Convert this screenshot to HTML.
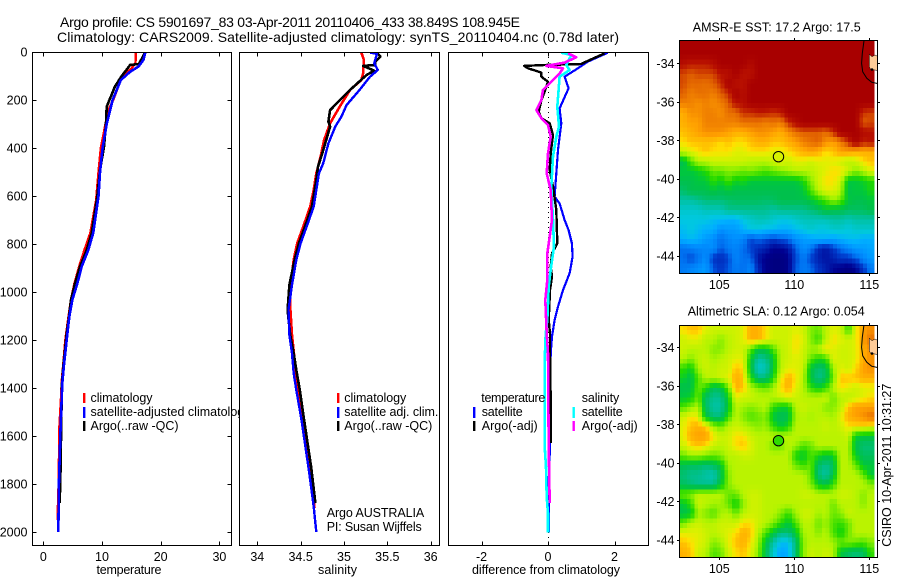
<!DOCTYPE html>
<html lang="en">
<head>
<meta charset="utf-8">
<title>Argo profile CS 5901697_83</title>
<style>
html,body{margin:0;padding:0;background:#fff;width:900px;height:580px;overflow:hidden}
svg{display:block;font-family:"Liberation Sans",Arial,sans-serif;font-size:12.5px;fill:#000}
</style>
</head>
<body>
<svg id="chart" width="900" height="580" viewBox="0 0 900 580" xmlns="http://www.w3.org/2000/svg">
<defs>
<clipPath id="clip-p1"><rect x="32" y="52" width="200" height="493"/></clipPath>
<clipPath id="clip-p2"><rect x="239" y="52" width="200" height="493"/></clipPath>
<clipPath id="clip-p3"><rect x="448" y="52" width="200" height="493"/></clipPath>
<clipPath id="clip-m1"><rect x="679.5" y="40.5" width="198" height="233"/></clipPath>
<clipPath id="clip-m2"><rect x="679.5" y="325.5" width="198" height="232"/></clipPath>
</defs>
<text x="60" y="27" font-size="14" textLength="460">Argo profile: CS 5901697_83 03-Apr-2011 20110406_433 38.849S 108.945E</text>
<text x="57" y="42" font-size="14" textLength="562">Climatology: CARS2009. Satellite-adjusted climatology: synTS_20110404.nc (0.78d later)</text>

<g id="panel1">
<rect x="32" y="52" width="200" height="493" fill="#fff"/>
<g id="panel1-marks" clip-path="url(#clip-p1)"></g>
<g id="panel1-axes"></g>
<text x="129" y="574" text-anchor="middle" textLength="65">temperature</text>
<g>
<rect x="83" y="393" width="2.4" height="10" fill="#f00"/>
<rect x="83" y="407" width="2.4" height="11" fill="#00f"/>
<rect x="83" y="421" width="2.4" height="10" fill="#000"/>
<text x="90.5" y="402" textLength="62">climatology</text>
<text x="90.5" y="416" textLength="160">satellite-adjusted climatology</text>
<text x="90.5" y="430" textLength="88">Argo(..raw -QC)</text>
</g>
</g>

<g id="panel2">
<rect x="239" y="52" width="200" height="493" fill="#fff"/>
<g id="panel2-marks" clip-path="url(#clip-p2)"></g>
<g id="panel2-axes"></g>
<text x="337.5" y="574" text-anchor="middle" textLength="39">salinity</text>
<g>
<rect x="337" y="393" width="2.4" height="10" fill="#f00"/>
<rect x="337" y="407" width="2.4" height="11" fill="#00f"/>
<rect x="337" y="421" width="2.4" height="10" fill="#000"/>
<text x="344.3" y="402" textLength="62">climatology</text>
<text x="344.3" y="416" textLength="94">satellite adj. clim.</text>
<text x="344.3" y="430" textLength="88">Argo(..raw -QC)</text>
<text x="326.7" y="517" textLength="97.5">Argo AUSTRALIA</text>
<text x="326.7" y="531" textLength="95">PI: Susan Wijffels</text>
</g>
</g>

<g id="panel3">
<rect x="448" y="52" width="200" height="493" fill="#fff"/>
<g id="panel3-marks" clip-path="url(#clip-p3)"></g>
<g id="panel3-axes"></g>
<text x="546" y="574" text-anchor="middle" textLength="148">difference from climatology</text>
<g>
<rect x="473" y="407" width="2.4" height="11" fill="#00f"/>
<rect x="473" y="421" width="2.4" height="10" fill="#000"/>
<rect x="572.5" y="407" width="2.4" height="11" fill="#0ff"/>
<rect x="572.5" y="421" width="2.4" height="10" fill="#f0f"/>
<text x="481.3" y="402" textLength="64">temperature</text>
<text x="481.7" y="416" textLength="41">satellite</text>
<text x="481.7" y="430" textLength="56">Argo(-adj)</text>
<text x="581.7" y="402" textLength="37.5">salinity</text>
<text x="581.7" y="416" textLength="41">satellite</text>
<text x="581.7" y="430" textLength="56">Argo(-adj)</text>
</g>
</g>

<g id="map1">
<text x="692.7" y="31.7" textLength="168">AMSR-E SST: 17.2 Argo: 17.5</text>
<g id="map1-cells" clip-path="url(#clip-m1)"></g>
<g id="map1-axes"></g>
</g>

<g id="map2">
<text x="687.7" y="315.7" textLength="177">Altimetric SLA: 0.12 Argo: 0.054</text>
<g id="map2-cells" clip-path="url(#clip-m2)"></g>
<g id="map2-axes"></g>
</g>

<text transform="translate(891,546.7) rotate(-90)" textLength="163">CSIRO 10-Apr-2011 10:31:27</text>

<script>
// ---- Profile data (depth in metres) ----
const depthTicks = [0,200,400,600,800,1000,1200,1400,1600,1800,2000];
const tempTicks = [0,10,20,30];
const salTicks = [34,34.5,35,35.5,36];
const salTickLabels = ['34','34.5','35','35.5','36'];
const diffTicks = [-2,0,2];

const tempClimDepth = [0,45,68,106,200,240,300,400,500,617,686,754,825,894,965,1033,1103,1200,1300,1367,1450,1561,1800,1950];
const tempClimValue = [15.75,15.7,15.05,13.35,11.9,11.1,10.6,9.8,9.4,9.0,8.5,8.0,7.0,6.1,5.3,4.7,4.3,3.75,3.4,3.15,3.0,2.75,2.6,2.42];
const tempSatDepth = [0,33,61,82,117,200,300,400,500,600,754,825,894,965,1033,1103,1172,1242,1311,1381,1548,1645,1784,2000];
const tempSatValue = [17.4,17.05,16.2,14.8,13.2,11.8,10.8,10.1,9.66,9.4,8.5,7.67,6.54,5.8,4.94,4.43,4.1,3.8,3.5,3.24,2.96,2.85,2.67,2.56];
const tempArgoDepth = [3,50,54,61,100,144,228,297,394,492,603,754,825,894,965,1033,1103,1172,1242,1311,1381,1548,1728,1880];
const tempArgoValue = [17.3,16.3,14.77,14.6,13.35,12.2,10.8,10.68,10.34,9.66,9.2,8.24,7.39,6.25,5.4,4.72,4.38,3.98,3.7,3.41,3.19,3.05,2.95,2.8];

const salClimDepth = [2,33,89,117,158,228,297,367,436,506,575,644,727,797,866,970,1061,1179,1283,1394,1533,1728,1900];
const salClimValue = [35.2,35.23,35.22,35.2,35.07,34.95,34.84,34.77,34.73,34.68,34.65,34.61,34.53,34.46,34.42,34.385,34.38,34.4,34.43,34.47,34.53,34.61,34.66];
const salSatDepth = [2,8,47,75,103,158,221,269,311,381,464,506,575,644,727,797,866,970,1075,1179,1255,1339,1408,1533,1755,1894,2000];
const salSatValue = [35.3,35.38,35.35,35.39,35.3,35.18,35.03,34.97,34.9,34.82,34.76,34.71,34.68,34.65,34.57,34.5,34.45,34.4,34.36,34.37,34.4,34.42,34.45,34.51,34.6,34.65,34.68];
const salArgoDepth = [3,19,40,54,58,78,96,158,242,290,311,422,478,533,644,727,797,866,970,1075,1179,1255,1325,1408,1533,1728,1880];
const salArgoValue = [35.38,35.42,35.36,35.36,35.22,35.35,35.26,35.07,34.84,34.82,34.84,34.75,34.7,34.68,34.63,34.55,34.48,34.43,34.37,34.35,34.38,34.42,34.45,34.49,34.54,34.62,34.67];

const diffTempSatDepth = [3,40,68,103,151,235,297,408,506,603,631,700,742,797,853,922,992,1061,1117,1186,1256,1450,1645,1784,2003];
const diffTempSatValue = [1.8,1.2,0.9,0.5,0.62,0.35,0.4,0.3,0.25,0.2,0.35,0.5,0.62,0.72,0.74,0.65,0.45,0.3,0.2,0.12,0.08,0.06,0.06,0.02,0.02];
const diffTempArgoDepth = [6,40,50,54,58,68,86,103,124,165,200,249,276,297,346,422,492,561,658,797,839,894,936,992,1117,1172,1256,1450,1630];
const diffTempArgoValue = [1.7,1.15,1.0,-0.1,-0.72,-0.6,-0.2,-0.2,0,-0.1,-0.2,-0.28,-0.2,0.05,0.15,0.08,0.05,0.15,0.25,0.28,0.12,0.08,0.12,0.06,0.02,0.06,0.06,0.08,0.08];
const diffSalSatDepth = [3,13,54,75,103,158,228,311,353,436,561,700,811,908,978,1117,1172,1283,1367,1645,1728,1853,1922,2003];
const diffSalSatValue = [0.4,0.7,0.55,0.65,0.35,0.32,0.28,0.33,0.25,0.15,0.1,0.15,0.18,0.08,0.02,-0.02,-0.07,-0.1,-0.1,-0.1,-0.06,-0.04,0,0];
const diffSalArgoDepth = [6,22,44,58,68,89,124,158,200,242,276,304,353,422,506,575,700,769,839,950,1033,1172,1256,1645,1880];
const diffSalArgoValue = [0.6,0.85,0.5,-0.05,0.45,0.35,0.1,-0.15,-0.2,-0.35,-0.2,0,0.08,0,-0.04,0.08,0.12,0.05,-0.02,-0.02,-0.08,-0.04,0,0.02,0.05];

// ---- Map data: colour index 0 (deep blue) .. 100 (dark red), sampled every 0.5 degree ----
const lonTicks = [105,110,115];
const latTicks = [-34,-36,-38,-40,-42,-44];
const sstValues = [
[100,100,100,100,100,100,100,100,100,100,100,100,100,100,100,100,100,100,100,100,100,100,100,100,100,100],
[100,100,100,100,100,100,100,100,100,100,100,100,100,100,100,100,100,100,100,100,100,100,100,100,100,100],
[95,92,92,92,95,100,100,100,100,96,100,100,100,100,100,100,100,100,100,100,100,100,100,100,100,100],
[88,86,88,88,88,94,94,100,94,94,100,100,100,100,100,100,100,100,100,100,100,100,100,100,100,100],
[88,85,85,84,86,90,100,94,94,100,100,100,100,100,100,100,100,100,100,100,100,100,100,100,100,100],
[86,82,84,84,82,86,90,100,95,100,100,100,100,100,100,100,100,100,100,100,100,100,100,100,100,100],
[82,82,80,82,80,82,86,94,95,100,100,100,100,100,100,100,100,100,100,100,100,100,100,100,100,100],
[76,80,80,82,82,80,84,84,90,90,92,92,90,92,100,100,100,100,100,100,100,100,100,100,90,88],
[76,78,78,82,82,82,82,82,84,84,84,82,84,82,90,96,100,100,100,100,100,100,100,100,86,88],
[74,76,78,80,80,80,78,76,76,78,80,80,78,76,80,84,86,86,86,84,90,100,100,100,96,94],
[72,74,74,74,74,72,74,72,72,74,76,76,74,74,76,78,82,84,86,80,78,82,90,100,92,94],
[68,70,72,74,72,72,72,70,70,72,72,72,70,70,72,74,76,78,76,72,74,78,78,76,76,76],
[47,58,66,66,68,68,68,68,68,66,66,66,68,70,68,70,70,68,70,70,70,68,66,68,72,74],
[50,50,52,55,60,60,62,62,60,62,60,58,60,62,64,66,66,66,68,70,72,72,68,62,66,70],
[48,48,50,50,56,52,58,52,54,50,50,50,50,50,50,50,54,62,68,72,72,68,50,50,52,55],
[45,48,48,48,50,48,50,48,48,48,48,48,48,48,48,48,50,58,66,70,70,66,48,50,50,54],
[40,40,42,44,44,44,45,46,46,46,46,45,46,48,48,48,48,50,54,58,64,60,50,48,48,50],
[36,36,36,38,38,38,42,42,42,42,42,42,40,42,42,42,42,44,46,50,48,48,46,46,46,48],
[34,34,34,34,32,32,30,30,34,36,38,38,36,34,34,36,38,38,38,38,40,40,38,40,40,40],
[32,34,32,30,30,24,26,26,30,34,34,32,32,30,30,32,34,36,34,34,36,36,34,36,36,36],
[30,32,30,26,24,18,22,24,22,14,18,16,12,16,18,24,26,28,30,30,28,30,32,32,30,30],
[18,20,22,22,24,16,20,22,18,14,10,8,3,3,6,16,24,20,10,6,12,18,22,26,26,28],
[18,14,18,24,12,10,14,22,18,18,6,2,0,0,2,14,20,14,8,6,8,12,12,16,22,26],
[20,22,24,26,16,12,16,20,18,22,10,2,0,0,2,16,20,18,12,8,4,2,0,3,12,20]
];
const slaValues = [
[72,74,74,70,68,68,68,68,70,76,76,72,68,68,68,70,68,62,60,66,70,68,56,70,78,80],
[68,70,70,66,66,62,66,68,70,76,76,72,68,68,68,72,70,62,56,66,72,70,68,70,78,84],
[68,66,66,66,62,62,66,68,68,60,50,50,58,66,68,72,68,64,66,72,70,68,68,70,76,80],
[66,62,66,68,64,66,68,70,70,52,40,42,50,66,68,70,68,60,54,56,70,68,68,70,76,80],
[56,52,64,68,66,68,68,74,72,50,36,38,50,66,70,70,68,50,44,46,64,70,68,72,78,80],
[52,48,58,66,66,68,70,76,74,56,44,44,54,70,76,72,66,50,42,46,60,74,74,74,76,76],
[48,48,60,56,46,48,60,76,74,66,62,60,64,72,76,70,66,56,52,56,66,72,70,68,70,70],
[50,52,60,46,42,42,52,70,68,68,66,66,66,68,70,68,66,66,66,68,60,66,66,68,70,72],
[58,62,66,46,40,40,50,66,64,62,64,66,56,52,52,66,68,66,66,62,62,66,74,78,78,78],
[68,72,70,50,44,44,56,66,62,58,60,62,50,46,48,64,66,64,66,66,64,70,76,78,80,84],
[70,74,76,74,64,60,66,68,66,64,62,64,56,50,54,66,66,66,66,68,66,68,72,72,72,70],
[70,76,78,78,72,68,68,72,72,68,66,66,66,66,66,66,66,66,66,66,66,66,68,52,50,50],
[68,72,74,72,68,66,68,72,74,70,66,66,60,60,66,64,58,60,66,66,66,66,66,48,44,44],
[60,64,64,62,60,62,66,66,68,68,66,66,66,66,66,54,50,58,54,50,52,66,66,52,46,46],
[48,46,46,44,46,50,64,66,66,66,66,66,66,66,66,60,56,60,46,42,46,66,66,60,50,50],
[44,42,42,40,38,46,62,66,66,66,66,66,66,66,66,66,66,60,44,40,48,66,66,66,60,50],
[46,44,42,42,42,50,62,66,66,66,66,66,66,66,66,66,66,62,52,48,56,66,66,66,66,62],
[60,62,66,66,66,66,60,60,66,68,68,66,66,66,66,66,68,68,66,66,66,68,68,66,62,66],
[50,56,68,66,64,64,60,52,62,68,68,66,66,66,66,66,66,66,66,66,60,66,66,66,62,66],
[48,50,64,62,58,64,66,60,66,68,68,66,66,62,56,64,68,68,64,66,60,62,68,66,66,66],
[60,66,68,66,66,68,68,68,72,72,68,66,62,56,50,58,66,66,60,64,58,56,60,66,66,66],
[70,70,70,68,66,68,70,72,76,74,66,58,50,44,44,50,64,66,62,66,58,52,60,66,66,66],
[74,72,70,68,62,64,70,74,76,72,64,50,40,32,32,44,62,66,66,66,64,60,62,60,58,62],
[76,74,68,66,58,60,68,72,74,70,62,48,36,28,30,44,62,68,66,68,66,50,46,44,46,56]
];
const argoLon = 108.945;
const argoLat = -38.849;
const sstArgoColourIndex = 69;
const slaArgoColourIndex = 56;
const contourLon = [114.65,114.53,114.49,114.56,114.83,115.15,115.6];
const contourLat = [-32.79,-33.48,-34,-34.44,-34.78,-34.98,-35.06];
const landLon = [115,115.18,115.38,115.6,115.6,115.09,115];
const landLat = [-33.53,-33.66,-33.57,-33.66,-34.38,-34.31,-34.18];

// ---- Helpers ----
const SVGNS = 'http://www.w3.org/2000/svg';
function make(tag, attrs, parent, name) {
  const el = document.createElementNS(SVGNS, tag);
  Object.keys(attrs).forEach(function (k) { el.setAttribute(k, attrs[k]); });
  
  
  parent.appendChild(el);
  return el;
}
function lin(d0, d1, r0, r1) { return function (v) { return r0 + (v - d0) * (r1 - r0) / (d1 - d0); }; }
const yDepth = lin(0, 2000, 52, 532);
const xTemp = lin(0, 30, 43.3, 219.4);
const xSal = lin(34, 36, 257.3, 430.7);
const xDiff = lin(-2, 2, 481.5, 614.5);

function profile(parent, xScale, depths, values, colour, width, name) {
  const pts = depths.map(function (d, i) { return xScale(values[i]).toFixed(1) + ',' + yDepth(d).toFixed(1); }).join(' ');
  make('polyline', { points: pts, fill: 'none', stroke: colour, 'stroke-width': width, 'stroke-linejoin': 'round', 'shape-rendering': 'crispEdges' }, parent, name);
}
function line(parent, x1, y1, x2, y2, name) {
  make('line', { x1: x1, y1: y1, x2: x2, y2: y2, stroke: '#000', 'stroke-width': 1, 'shape-rendering': 'crispEdges' }, parent, name);
}
function label(parent, x, y, str, anchor, name) {
  const t = make('text', { x: x, y: y, 'text-anchor': anchor }, parent, name);
  t.textContent = str;
}
function panelAxes(parent, left, right, top, bottom, xScale, xTicks, xLabels, withDepth) {
  make('rect', { x: left, y: top, width: right - left, height: bottom - top, fill: 'none', stroke: '#000', 'stroke-width': 1, 'shape-rendering': 'crispEdges' }, parent, 'plot-frame');
  xTicks.forEach(function (v, i) {
    const x = Math.round(xScale(v)) + 0.5;
    line(parent, x, top, x, top + 4, 'x-tick-top');
    line(parent, x, bottom, x, bottom - 4, 'x-tick-bottom');
    label(parent, xScale(v), 561, xLabels[i], 'middle', 'x-tick-label');
  });
  if (withDepth) {
    depthTicks.forEach(function (d) {
      const y = Math.round(yDepth(d)) + 0.5;
      line(parent, left, y, left + 4, y, 'y-tick-left');
      line(parent, right, y, right - 4, y, 'y-tick-right');
      label(parent, 27.5, yDepth(d) + 4.5, String(d), 'end', 'y-tick-label');
    });
  }
}

// Temperature panel
const p1 = document.getElementById('panel1-marks');
profile(p1, xTemp, tempClimDepth, tempClimValue, '#f00', 2.4, 'temperature-climatology-line');
profile(p1, xTemp, tempArgoDepth, tempArgoValue, '#000', 2.6, 'temperature-argo-line');
profile(p1, xTemp, tempSatDepth, tempSatValue, '#00f', 2.6, 'temperature-satellite-line');
panelAxes(document.getElementById('panel1-axes'), 32.5, 231.5, 52.5, 545.5, xTemp, tempTicks, tempTicks.map(String), true);

// Salinity panel
const p2 = document.getElementById('panel2-marks');
profile(p2, xSal, salClimDepth, salClimValue, '#f00', 2.6, 'salinity-climatology-line');
profile(p2, xSal, salArgoDepth, salArgoValue, '#000', 2.6, 'salinity-argo-line');
profile(p2, xSal, salSatDepth, salSatValue, '#00f', 2.4, 'salinity-satellite-line');
panelAxes(document.getElementById('panel2-axes'), 239.5, 439.5, 52.5, 545.5, xSal, salTicks, salTickLabels, false);

// Difference panel
const p3 = document.getElementById('panel3-marks');
make('line', { x1: 548.5, y1: 52, x2: 548.5, y2: 545, stroke: '#000', 'stroke-width': 1, 'stroke-dasharray': '1 4' }, p3, 'zero-reference-line');
profile(p3, xDiff, diffTempSatDepth, diffTempSatValue, '#00f', 2.2, 'difference-temperature-satellite-line');
profile(p3, xDiff, diffTempArgoDepth, diffTempArgoValue, '#000', 2.4, 'difference-temperature-argo-line');
profile(p3, xDiff, diffSalSatDepth, diffSalSatValue, '#0ff', 2.6, 'difference-salinity-satellite-line');
profile(p3, xDiff, diffSalArgoDepth, diffSalArgoValue, '#f0f', 2.6, 'difference-salinity-argo-line');
panelAxes(document.getElementById('panel3-axes'), 448.5, 648.5, 52.5, 545.5, xDiff, diffTicks, diffTicks.map(String), false);

// Colour scale
const scaleStops = [0,3,8,14,18,24,30,34,38,42,45,48,50,55,60,65,70,72,74,78,82,86,90,94,100];
const scaleColours = ['#000080','#000090','#0020b0','#0040d0','#0070f0','#0090ff','#00b0ff','#00c8e0','#00c4b8','#00c090','#00c068','#00c04c','#00c83c','#20d800','#68e800','#b0f400','#e0f000','#ffe000','#ffc000','#ffa000','#f08000','#e06000','#c83000','#b81000','#a80000'];
function hex(c) { return [1, 3, 5].map(function (i) { return parseInt(c.substr(i, 2), 16); }); }
function colourOf(v) {
  let i = 0;
  while (i < scaleStops.length - 2 && v > scaleStops[i + 1]) i++;
  const f = Math.max(0, Math.min(1, (v - scaleStops[i]) / (scaleStops[i + 1] - scaleStops[i])));
  const a = hex(scaleColours[i]);
  const b = hex(scaleColours[i + 1]);
  return 'rgb(' + a.map(function (c, k) { return Math.round(c + (b[k] - c) * f); }).join(',') + ')';
}
// Read the 0.5 degree field at a fractional row/column so the quarter-degree pixels shade smoothly.
function sampleField(values, rowPos, colPos) {
  const r = Math.max(0, Math.min(values.length - 1, rowPos));
  const c = Math.max(0, Math.min(values[0].length - 1, colPos));
  const r0 = Math.floor(r), c0 = Math.floor(c);
  const r1 = Math.min(values.length - 1, r0 + 1), c1 = Math.min(values[0].length - 1, c0 + 1);
  const fr = r - r0, fc = c - c0;
  return (values[r0][c0] * (1 - fc) + values[r0][c1] * fc) * (1 - fr) + (values[r1][c0] * (1 - fc) + values[r1][c1] * fc) * fr;
}

// Maps
function drawMap(cellsId, axesId, values, top, bottom, lat34Y, argoIndex, prefix) {
  const cells = document.getElementById(cellsId);
  const axes = document.getElementById(axesId);
  const xLon = lin(105, 115, 719.3, 869.3);
  const yLat = lin(-34, -44, lat34Y, lat34Y + 192.7);
  const lon0 = 102.33;
  const rows = values.length * 2;
  const cols = values[0].length * 2;
  const cellH = (bottom - top) / rows;
  for (let r = 0; r < rows; r++) {
    for (let c = 0; c < cols; c++) {
      const v = sampleField(values, (r + 0.5) / 2 - 0.5, (c + 0.5) / 2 - 0.5);
      const x0 = xLon(lon0 + c * 0.25);
      const x1 = xLon(lon0 + (c + 1) * 0.25);
      make('rect', { x: x0.toFixed(2), y: (top + r * cellH).toFixed(2), width: (x1 - x0 + 0.3).toFixed(2), height: (cellH + 0.3).toFixed(2), fill: colourOf(v), 'shape-rendering': 'crispEdges' }, cells, prefix + '-cell');
    }
  }
  const land = landLon.map(function (lo, i) { return xLon(lo).toFixed(1) + ',' + yLat(landLat[i]).toFixed(1); }).join(' ');
  make('polygon', { points: land, fill: '#ffcc99', stroke: '#000', 'stroke-width': 0.5 }, cells, prefix + '-land');
  const contour = contourLon.map(function (lo, i) { return xLon(lo).toFixed(1) + ',' + yLat(contourLat[i]).toFixed(1); }).join(' ');
  make('polyline', { points: contour, fill: 'none', stroke: '#000', 'stroke-width': 1 }, cells, prefix + '-contour');
  make('circle', { cx: xLon(115.18).toFixed(1), cy: yLat(-34.32).toFixed(1), r: 1.3, fill: '#000' }, cells, prefix + '-coast-dot');
  make('circle', { cx: xLon(argoLon).toFixed(1), cy: yLat(argoLat).toFixed(1), r: 5.2, fill: colourOf(argoIndex), stroke: '#000', 'stroke-width': 1 }, cells, prefix + '-argo-marker');

  make('rect', { x: 679.5, y: top + 0.5, width: 198, height: bottom - top, fill: 'none', stroke: '#000', 'stroke-width': 1, 'shape-rendering': 'crispEdges' }, axes, prefix + '-frame');
  lonTicks.forEach(function (lo) {
    const x = Math.round(xLon(lo)) + 0.5;
    line(axes, x, top - 2, x, top, prefix + '-lon-tick-top');
    line(axes, x, bottom, x, bottom + 3, prefix + '-lon-tick-bottom');
    label(axes, xLon(lo), bottom + 16, String(lo), 'middle', prefix + '-lon-label');
  });
  latTicks.forEach(function (la) {
    const y = Math.round(yLat(la)) + 0.5;
    line(axes, 677, y, 679.5, y, prefix + '-lat-tick-left');
    line(axes, 877.5, y, 880, y, prefix + '-lat-tick-right');
    label(axes, 674.5, yLat(la) + 4.5, String(la), 'end', prefix + '-lat-label');
  });
}
drawMap('map1-cells', 'map1-axes', sstValues, 40, 273, 63.3, sstArgoColourIndex, 'sst');
drawMap('map2-cells', 'map2-axes', slaValues, 325, 557, 347.3, slaArgoColourIndex, 'sla');
</script>
</svg>
</body>
</html>
